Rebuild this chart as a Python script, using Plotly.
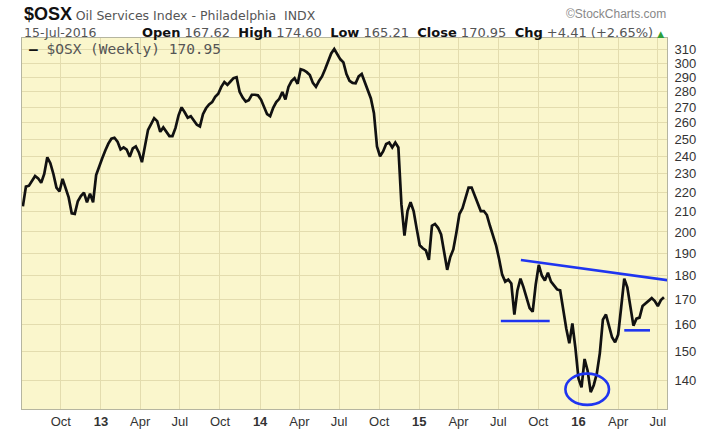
import pandas as pd
import plotly.graph_objects as go

# ---------------- data ----------------
start_date = "2012-07-06"
osx_weekly = [
    212.7, 223.0, 223.5, 226.1, 228.8, 227.5, 225.1, 229.9, 239.3, 235.9,
    229.9, 222.5, 220.4, 227.2, 222.5, 217.3, 209.2, 208.9, 215.3, 218.0,
    219.8, 214.8, 219.3, 214.8, 229.3, 234.3, 238.7, 243.2, 247.3, 250.2,
    250.8, 248.5, 243.8, 245.0, 243.8, 239.6, 244.4, 245.6, 242.1, 236.5,
    245.0, 255.6, 259.2, 262.9, 261.0, 254.4, 257.1, 254.4, 251.8, 251.8,
    256.8, 264.7, 269.8, 266.6, 263.2, 264.1, 261.0, 258.8, 257.7, 265.4,
    269.2, 271.7, 273.2, 276.7, 278.8, 283.4, 286.7, 284.8, 287.1, 289.4,
    290.0, 280.1, 276.2, 273.6, 274.5, 278.1, 278.1, 277.7, 274.9, 270.4,
    265.4, 264.1, 269.5, 273.2, 275.4, 279.9, 274.9, 283.4, 287.4, 289.4,
    285.5, 295.7, 295.0, 293.6, 291.6, 286.1, 283.4, 287.4, 290.6, 295.7,
    302.1, 307.1, 310.4, 306.4, 302.8, 300.6, 292.3, 287.6, 286.1, 285.8,
    290.6, 292.3, 286.1, 281.1, 275.6, 266.0, 245.6, 239.9, 242.7, 247.0,
    247.9, 245.0, 247.9, 245.0, 213.8, 198.3, 210.3, 214.8, 210.3, 201.6,
    193.7, 192.3, 191.4, 187.0, 203.0, 203.9, 202.0, 198.8, 191.4, 182.6,
    188.3, 191.8, 199.6, 208.8, 211.7, 216.5, 222.5, 222.5, 218.3, 214.3,
    210.3, 210.3, 208.3, 203.0, 198.8, 193.7, 187.4, 180.5, 177.5, 178.4,
    176.7, 164.0, 173.8, 178.8, 175.1, 170.2, 166.6, 165.1, 176.3, 184.8,
    180.1, 178.0, 181.3, 177.5, 175.7, 174.2, 173.8, 165.8, 158.6, 153.1,
    160.5, 151.3, 140.7, 137.7, 147.4, 143.3, 136.1, 138.4, 142.3, 149.5,
    162.0, 164.0, 159.7, 155.3, 153.4, 156.3, 167.0, 178.8, 175.1, 166.2,
    159.7, 162.4, 162.8, 167.4, 168.6, 169.4, 170.6, 169.4, 167.4, 169.8,
    170.95,
]
dates = pd.date_range(start=start_date, periods=len(osx_weekly), freq="W-FRI")

y_ticks = [140, 150, 160, 170, 180, 190, 200, 210, 220, 230, 240, 250,
           260, 270, 280, 290, 300, 310]
x_tick_dates = ["2012-10-01", "2013-01-01", "2013-04-01", "2013-07-01",
                "2013-10-01", "2014-01-01", "2014-04-01", "2014-07-01",
                "2014-10-01", "2015-01-01", "2015-04-01", "2015-07-01",
                "2015-10-01", "2016-01-01", "2016-04-01", "2016-07-01"]
x_tick_text = ["Oct", "<b>13</b>", "Apr", "Jul", "Oct", "<b>14</b>", "Apr", "Jul",
               "Oct", "<b>15</b>", "Apr", "Jul", "Oct", "<b>16</b>", "Apr", "Jul"]

# drawn annotations (analyst lines)
trend_start = ("2015-08-22", 187.0)
trend_end = ("2016-09-05", 177.0)
support1 = ("2015-07-07", "2015-10-27", 161.5)
support2 = ("2016-04-15", "2016-06-13", 157.9)
circle_box = ("2015-12-02", "2016-03-11", 132.0, 142.3)

header = {
    "symbol": "$OSX",
    "name": "Oil Services Index - Philadelphia\u00a0\u00a0INDX",
    "date": "15-Jul-2016",
    "open": "167.62", "high": "174.60", "low": "165.21", "close": "170.95",
    "chg": "+4.41 (+2.65%)",
}

# ---------------- figure ----------------
BLUE = "#1f35f0"
FONT = "Liberation Sans, Arial, sans-serif"
HFONT = "DejaVu Sans, Verdana, sans-serif"

fig = go.Figure()
fig.add_trace(go.Scatter(x=dates, y=osx_weekly, mode="lines",
                         line=dict(color="#111111", width=2.7),
                         showlegend=False, hoverinfo="x+y"))

shape_line = dict(color=BLUE, width=2.6)
fig.add_shape(type="line", xref="x", yref="y", x0=trend_start[0], y0=trend_start[1],
              x1=trend_end[0], y1=trend_end[1], line=shape_line)
fig.add_shape(type="line", xref="x", yref="y", x0=support1[0], x1=support1[1],
              y0=support1[2], y1=support1[2], line=shape_line)
fig.add_shape(type="line", xref="x", yref="y", x0=support2[0], x1=support2[1],
              y0=support2[2], y1=support2[2], line=shape_line)
fig.add_shape(type="circle", xref="x", yref="y", x0=circle_box[0], x1=circle_box[1],
              y0=circle_box[2], y1=circle_box[3], line=shape_line)

fig.update_layout(
    width=720, height=441,
    margin=dict(l=22, r=53, t=38, b=24, pad=0),
    paper_bgcolor="white",
    plot_bgcolor="#faf6cc",
    font=dict(family=FONT, size=13, color="#333333"),
    xaxis=dict(
        type="date",
        range=["2012-07-04", "2016-07-22"],
        tickvals=x_tick_dates, ticktext=x_tick_text,
        showgrid=True, gridcolor="#e3dcae", gridwidth=1,
        showline=True, linecolor="#b5b5a0", mirror=True, linewidth=1,
        ticks="", zeroline=False,
        tickfont=dict(family=FONT, size=13, color="#333333"),
    ),
    yaxis=dict(
        type="log",
        range=[2.1163, 2.5034],
        side="right",
        tickvals=y_ticks, ticktext=[str(v) for v in y_ticks],
        showgrid=True, gridcolor="#e3dcae", gridwidth=1,
        showline=True, linecolor="#b5b5a0", mirror=True, linewidth=1,
        ticks="", zeroline=False, ticklabelstandoff=4,
        tickfont=dict(family=FONT, size=13, color="#333333"),
    ),
)

SEP = "\u00a0 "

# header text
fig.add_annotation(xref="paper", yref="paper", x=0, y=1.066, xanchor="left", yanchor="middle",
                   showarrow=False,
                   text=f"<b><span style='font-size:18px;color:#111;font-family:Liberation Sans'>{header['symbol']}</span></b>"
                        f"\u00a0<span style='font-size:12.5px;color:#555;font-family:DejaVu Sans'>{header['name']}</span>")
fig.add_annotation(xref="paper", yref="paper", x=1.002, y=1.066, xanchor="right", yanchor="middle",
                   showarrow=False, font=dict(family=FONT, size=12, color="#888888"),
                   text="\u00a9StockCharts.com")
fig.add_annotation(xref="paper", yref="paper", x=0, y=1.016, xanchor="left", yanchor="middle",
                   showarrow=False, font=dict(family=HFONT, size=12.5, color="#555555"),
                   text=header["date"])
fig.add_annotation(
    xref="paper", yref="paper", x=0.998, y=1.016, xanchor="right", yanchor="middle",
    showarrow=False, font=dict(family=HFONT, size=13, color="#555555"),
    text=(f"<b><span style='color:#111'>Open</span></b> {header['open']}{SEP}"
          f"<b><span style='color:#111'>High</span></b> {header['high']}{SEP}"
          f"<b><span style='color:#111'>Low</span></b> {header['low']}{SEP}"
          f"<b><span style='color:#111'>Close</span></b> {header['close']}{SEP}"
          f"<b><span style='color:#111'>Chg</span></b> {header['chg']} "
          f"<span style='color:#2e9e3a;font-size:9px'>\u25b2</span>"))

# legend label inside the plot
fig.add_annotation(xref="paper", yref="paper", x=0.008, y=0.971, xanchor="left", yanchor="middle",
                   showarrow=False,
                   font=dict(family="DejaVu Sans Mono, monospace", size=14.5, color="#555555"),
                   text=f"<b><span style='color:#111'>\u2014</span></b> $OSX (Weekly) {osx_weekly[-1]:.2f}")

fig.write_html("out.html",
               config={"displayModeBar": False},
               post_script="document.body.style.margin='0';document.body.style.padding='0';"
                           "window.dispatchEvent(new Event('resize'));")
